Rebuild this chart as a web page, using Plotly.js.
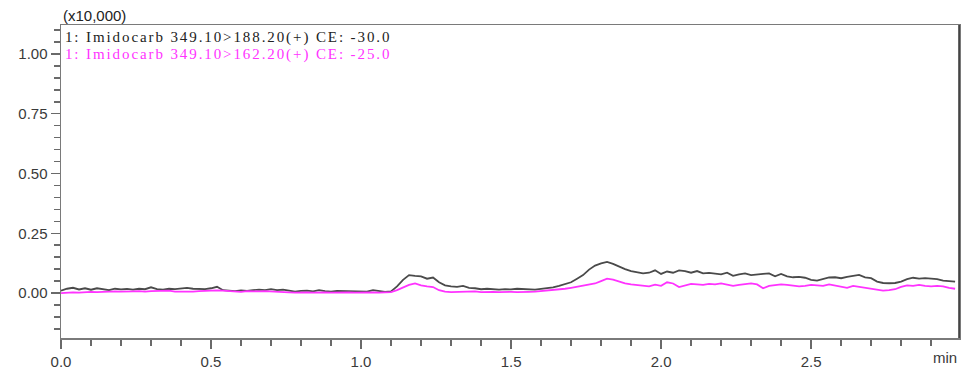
<!DOCTYPE html>
<html>
<head>
<meta charset="utf-8">
<script src="https://cdn.plot.ly/plotly-3.0.1.min.js"></script>
<style>
  body { margin: 0; padding: 0; background: #fff; }
  #chart { width: 964px; height: 374px; }
  .annotation[data-index="1"] text, .annotation[data-index="2"] text { letter-spacing: 1.9px; }
</style>
</head>
<body>
<div id="chart"></div>
<script>
// Retention time (min)
const timeMin = [
  0.00,0.02,0.04,0.06,0.08,0.10,0.12,0.14,0.16,0.18,
  0.20,0.22,0.24,0.26,0.28,0.30,0.32,0.34,0.36,0.38,
  0.40,0.42,0.44,0.46,0.48,0.50,0.52,0.54,0.56,0.58,
  0.60,0.62,0.64,0.66,0.68,0.70,0.72,0.74,0.76,0.78,
  0.80,0.82,0.84,0.86,0.88,0.90,0.92,0.94,0.96,0.98,
  1.00,1.02,1.04,1.06,1.08,1.10,1.12,1.14,1.16,1.18,
  1.20,1.22,1.24,1.26,1.28,1.30,1.32,1.34,1.36,1.38,
  1.40,1.42,1.44,1.46,1.48,1.50,1.52,1.54,1.56,1.58,
  1.60,1.62,1.64,1.66,1.68,1.70,1.72,1.74,1.76,1.78,
  1.80,1.82,1.84,1.86,1.88,1.90,1.92,1.94,1.96,1.98,
  2.00,2.02,2.04,2.06,2.08,2.10,2.12,2.14,2.16,2.18,
  2.20,2.22,2.24,2.26,2.28,2.30,2.32,2.34,2.36,2.38,
  2.40,2.42,2.44,2.46,2.48,2.50,2.52,2.54,2.56,2.58,
  2.60,2.62,2.64,2.66,2.68,2.70,2.72,2.74,2.76,2.78,
  2.80,2.82,2.84,2.86,2.88,2.90,2.92,2.94,2.96,2.98
];

// Intensity (x10,000) — transition 349.10>188.20(+)
const mrm188 = [
  0.010,0.018,0.022,0.015,0.020,0.014,0.020,0.016,0.012,0.018,
  0.015,0.017,0.014,0.018,0.016,0.024,0.016,0.014,0.018,0.016,
  0.020,0.022,0.018,0.017,0.016,0.020,0.026,0.012,0.010,0.008,
  0.011,0.009,0.012,0.014,0.012,0.016,0.012,0.014,0.010,0.006,
  0.009,0.010,0.007,0.012,0.008,0.006,0.009,0.008,0.007,0.009,
  0.008,0.006,0.012,0.008,0.005,0.007,0.028,0.055,0.075,0.072,
  0.070,0.060,0.065,0.045,0.032,0.028,0.026,0.030,0.022,0.020,
  0.016,0.018,0.015,0.014,0.016,0.015,0.018,0.016,0.015,0.014,
  0.017,0.020,0.024,0.030,0.036,0.045,0.060,0.075,0.098,0.115,
  0.124,0.130,0.122,0.110,0.100,0.092,0.088,0.082,0.085,0.095,
  0.080,0.090,0.085,0.095,0.092,0.085,0.092,0.082,0.084,0.080,
  0.078,0.085,0.072,0.078,0.082,0.075,0.076,0.080,0.082,0.070,
  0.080,0.070,0.066,0.068,0.064,0.055,0.052,0.060,0.065,0.066,
  0.062,0.068,0.072,0.076,0.066,0.062,0.048,0.042,0.041,0.042,
  0.048,0.058,0.064,0.060,0.062,0.060,0.058,0.052,0.050,0.048
];

// Intensity (x10,000) — transition 349.10>162.20(+)
const mrm162 = [
  0.000,0.002,0.003,0.002,0.004,0.005,0.004,0.006,0.005,0.007,
  0.006,0.008,0.007,0.008,0.006,0.008,0.009,0.008,0.010,0.006,
  0.005,0.004,0.006,0.008,0.010,0.012,0.011,0.010,0.008,0.006,
  0.005,0.008,0.006,0.007,0.008,0.006,0.004,0.005,0.003,0.002,
  0.004,0.003,0.002,0.004,0.003,0.002,0.003,0.004,0.003,0.002,
  0.003,0.004,0.003,0.002,0.003,0.004,0.012,0.022,0.034,0.040,
  0.032,0.028,0.025,0.012,0.006,0.004,0.005,0.006,0.005,0.007,
  0.004,0.006,0.005,0.004,0.006,0.005,0.004,0.006,0.005,0.006,
  0.008,0.010,0.012,0.014,0.018,0.022,0.026,0.030,0.034,0.040,
  0.050,0.060,0.056,0.048,0.040,0.036,0.034,0.030,0.028,0.035,
  0.030,0.045,0.040,0.025,0.030,0.038,0.036,0.034,0.038,0.036,
  0.040,0.034,0.030,0.034,0.038,0.040,0.036,0.020,0.030,0.034,
  0.036,0.034,0.032,0.028,0.030,0.034,0.032,0.030,0.036,0.032,
  0.028,0.022,0.030,0.026,0.022,0.018,0.012,0.010,0.012,0.016,
  0.026,0.032,0.030,0.034,0.030,0.028,0.030,0.028,0.022,0.018
];

const seriesNames = [
  "1: Imidocarb 349.10>188.20(+) CE: -30.0",
  "1: Imidocarb 349.10>162.20(+) CE: -25.0"
];
const seriesColors = ["#4a4a4a", "#ff33ff"];
const yTickVals = [0, 0.25, 0.5, 0.75, 1.0];
const yTickText = ["0.00", "0.25", "0.50", "0.75", "1.00"];
const xTickVals = [0, 0.5, 1.0, 1.5, 2.0, 2.5];
const xTickText = ["0.0", "0.5", "1.0", "1.5", "2.0", "2.5"];

const traces = [
  { x: timeMin, y: mrm188, type: "scatter", mode: "lines", name: seriesNames[0],
    line: { color: seriesColors[0], width: 1.8 }, hoverinfo: "skip" },
  { x: timeMin, y: mrm162, type: "scatter", mode: "lines", name: seriesNames[1],
    line: { color: seriesColors[1], width: 1.8 }, hoverinfo: "skip" }
];

const tickFont = { family: "Liberation Sans, Arial, sans-serif", size: 15, color: "#3a3a3a" };
const serif = "Liberation Serif, Times New Roman, serif";

const layout = {
  width: 964, height: 374,
  margin: { l: 61, r: 5, t: 25, b: 36 },
  paper_bgcolor: "#ffffff", plot_bgcolor: "#ffffff",
  showlegend: false,
  xaxis: {
    range: [0, 2.993], showgrid: false, zeroline: false,
    showline: true, linecolor: "#7a7a7a", linewidth: 1.5, mirror: true,
    ticks: "outside", ticklen: 9, tickwidth: 1.5, tickcolor: "#6a6a6a",
    tickvals: xTickVals, ticktext: xTickText, tickfont: tickFont,
    minor: { dtick: 0.1, ticks: "outside", ticklen: 6, tickwidth: 1.5, tickcolor: "#6a6a6a", showgrid: false }
  },
  yaxis: {
    range: [-0.188, 1.121], showgrid: false, zeroline: false,
    showline: true, linecolor: "#7a7a7a", linewidth: 1.5, mirror: true,
    ticks: "outside", ticklen: 9, tickwidth: 1.5, tickcolor: "#6a6a6a",
    tickvals: yTickVals, ticktext: yTickText, tickfont: tickFont,
    minor: { dtick: 0.05, tick0: 0, ticks: "outside", ticklen: 6, tickwidth: 1.5, tickcolor: "#6a6a6a", showgrid: false }
  },
  shapes: [
    { type: "line", xref: "paper", yref: "paper", x0: 1, x1: 1, y0: 0, y1: 1,
      line: { color: "#333333", width: 1.5 } }
  ],
  annotations: [
    { text: "(x10,000)", xref: "paper", yref: "paper", x: 0.037, y: 1.029,
      xanchor: "center", yanchor: "middle", showarrow: false,
      font: { family: "Liberation Sans, Arial, sans-serif", size: 15, color: "#222" } },
    { text: seriesNames[0], xref: "paper", yref: "paper", x: 0.0435, y: 0.959,
      xanchor: "left", yanchor: "middle", showarrow: false,
      font: { family: serif, size: 15, color: "#222222" } },
    { text: seriesNames[1], xref: "paper", yref: "paper", x: 0.0435, y: 0.907,
      xanchor: "left", yanchor: "middle", showarrow: false,
      font: { family: serif, size: 15, color: seriesColors[1] } },
    { text: "min", xref: "paper", yref: "paper", x: 0.984, y: -0.061,
      xanchor: "center", yanchor: "middle", showarrow: false,
      font: { family: "Liberation Sans, Arial, sans-serif", size: 15, color: "#3a3a3a" } }
  ]
};

Plotly.newPlot("chart", traces, layout, { staticPlot: true, displayModeBar: false });
</script>
</body>
</html>
